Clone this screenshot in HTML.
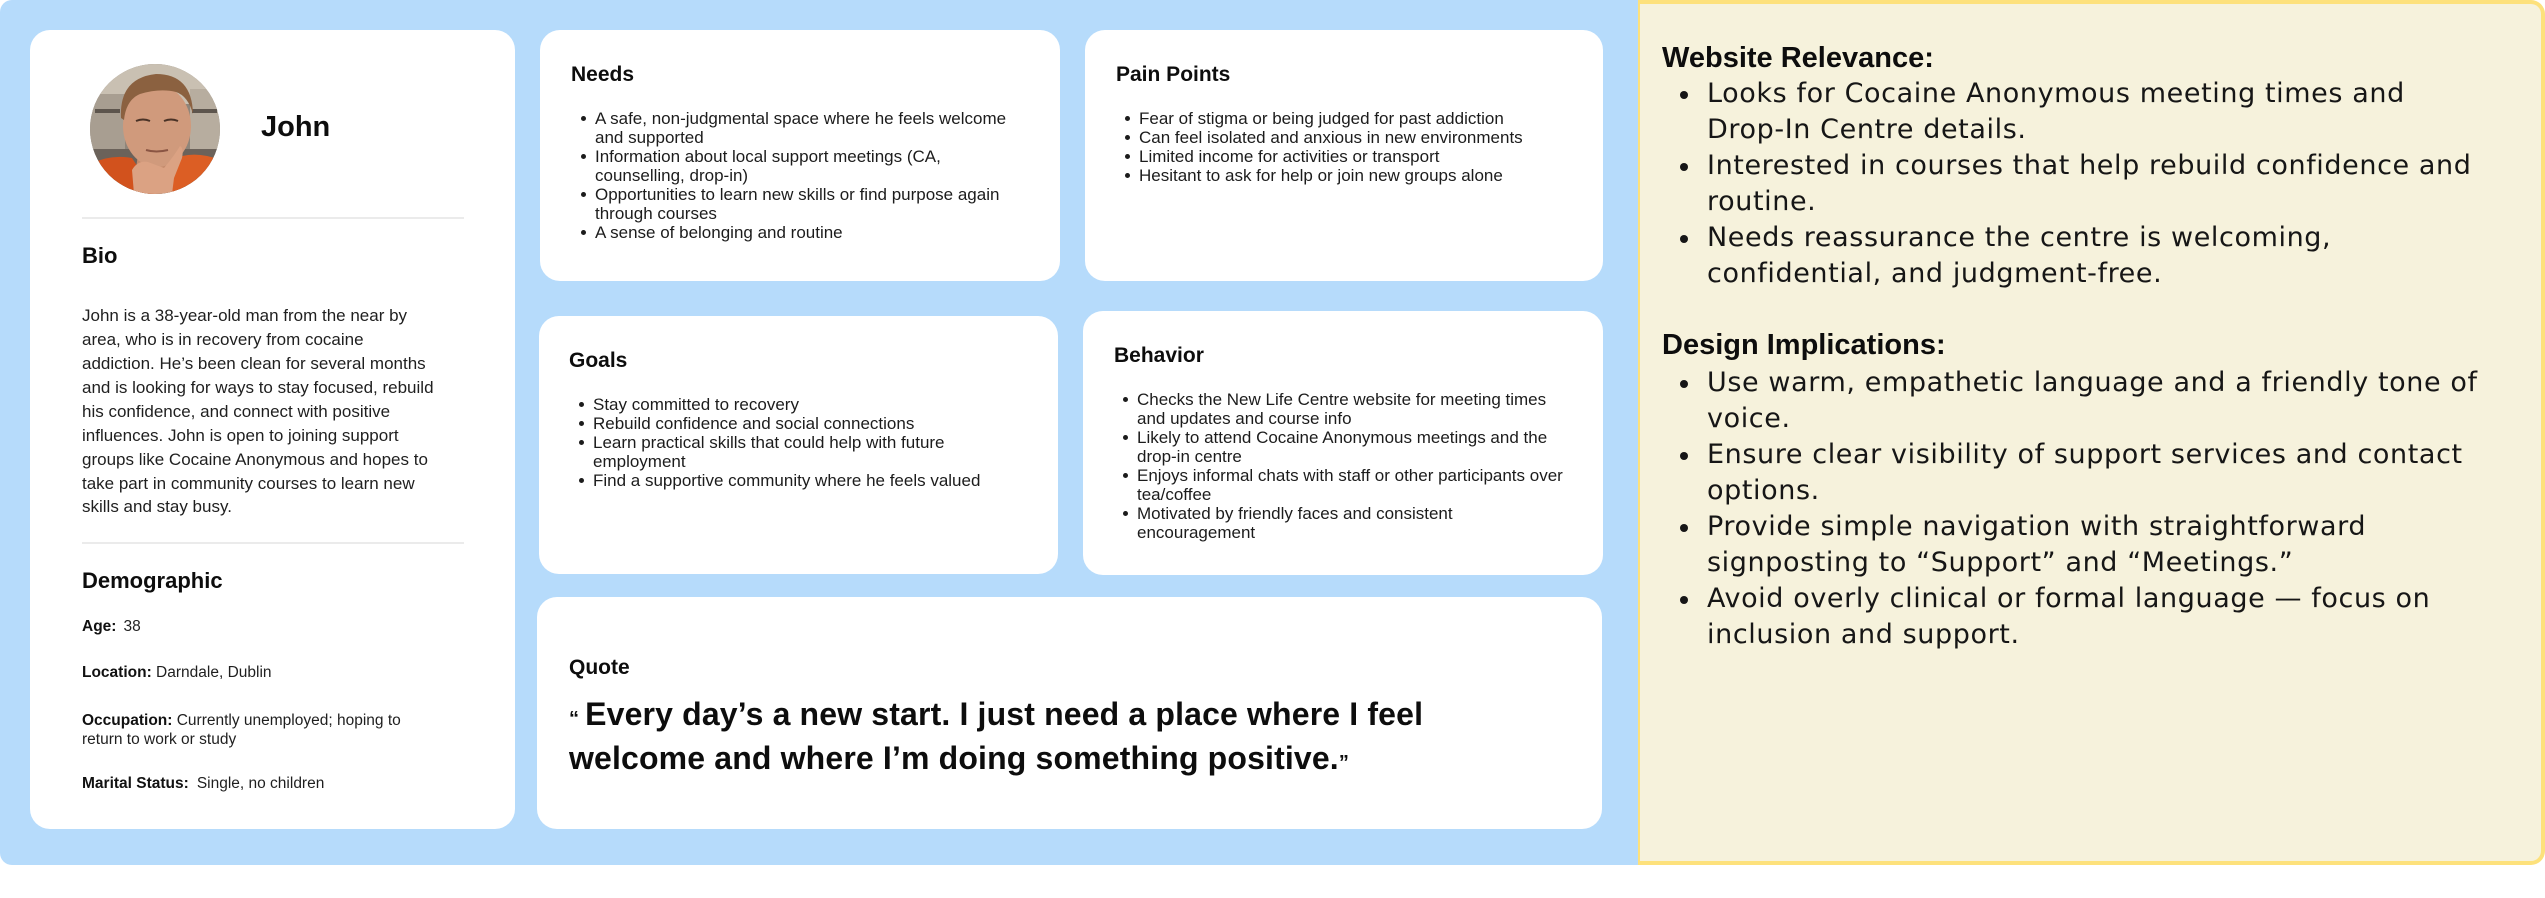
<!DOCTYPE html>
<html><head><meta charset="utf-8">
<style>
*{margin:0;padding:0;box-sizing:border-box}
html,body{width:2545px;height:898px;background:#fff;overflow:hidden}
body{position:relative;font-family:"Liberation Sans",Arial,sans-serif;color:#1c1c1c}
.a{position:absolute}
.blue{left:0;top:0;width:1640px;height:865px;background:#B6DBFB;border-radius:12px 0 0 12px}
.yel{left:1638px;top:0;width:907px;height:865px;background:#F6F2DC;border:4px solid #FDE17C;border-left-width:2px;border-radius:0 14px 14px 0}
.card{background:#fff;border-radius:20px}
.h{font-weight:700;font-size:21px;line-height:21px;color:#0d0d0d;white-space:nowrap}
.li{position:relative;font-size:17px;line-height:19px;white-space:nowrap;color:#1c1c1c}
.li::before{content:"";position:absolute;left:-14.5px;top:7.8px;width:5px;height:5px;border-radius:50%;background:#1c1c1c}
.div{height:2px;background:#ebebeb;left:82px;width:382px}
.bio{font-size:17px;line-height:23.9px;white-space:nowrap;color:#1f1f1f}
.dem{font-size:15.5px;line-height:19px;white-space:nowrap;color:#1f1f1f}
.dem b{color:#111}
.rh{font-weight:700;font-size:29px;line-height:36px;color:#0d0d0d;white-space:nowrap}
.rli{position:relative;font-family:"DejaVu Sans","Liberation Sans",sans-serif;font-size:27px;line-height:36px;letter-spacing:0.6px;white-space:nowrap;color:#161616}
.rli::before{content:"";position:absolute;left:-27px;top:15px;width:8px;height:8px;border-radius:50%;background:#161616}
.q{font-weight:700;font-size:32px;line-height:39px;letter-spacing:0.15px;color:#0d0d0d;white-space:nowrap}
.qm{font-size:20px}
</style></head>
<body>
<div class="a blue"></div>
<div class="a yel"></div>

<!-- Left profile card -->
<div class="a card" style="left:30px;top:30px;width:485px;height:799px"></div>
<svg class="a" style="left:90px;top:64px" width="130" height="130" viewBox="0 0 130 130">
<defs><clipPath id="c"><circle cx="65" cy="65" r="65"/></clipPath></defs>
<g clip-path="url(#c)">
<rect width="130" height="130" fill="#8f857a"/>
<rect x="0" y="0" width="130" height="40" fill="#c9c0b2"/>
<rect x="0" y="30" width="35" height="55" fill="#a89e91"/>
<rect x="100" y="25" width="30" height="60" fill="#b7ad9f"/>
<rect x="5" y="45" width="25" height="4" fill="#5d554d"/>
<rect x="102" y="45" width="25" height="4" fill="#5d554d"/>
<rect x="0" y="85" width="130" height="45" fill="#6b625a"/>
<path d="M48 90 L86 90 L90 120 L44 120Z" fill="#c48b6c"/>
<path d="M0 130 L0 100 Q20 90 42 94 L62 125 L66 130Z" fill="#d2521d"/>
<path d="M130 130 L130 96 Q110 88 92 92 L78 130Z" fill="#dc5e24"/>
<ellipse cx="67" cy="62" rx="34" ry="41" fill="#d09a7c"/>
<path d="M31 54 Q29 14 66 10 Q102 10 103 50 Q98 32 86 28 Q70 24 50 30 Q36 36 34 56Z" fill="#8b6140"/>
<path d="M46 57 Q53 54 60 57" stroke="#4a3226" stroke-width="2" fill="none"/>
<path d="M74 57 Q81 54 88 57" stroke="#4a3226" stroke-width="2" fill="none"/>
<path d="M56 86 Q66 89 78 86" stroke="#8a5543" stroke-width="2" fill="none"/>
<path d="M44 130 L42 106 Q48 96 58 98 L74 104 Q84 92 90 82 Q94 84 92 94 L84 114 L82 130Z" fill="#dba283"/>
</g></svg>
<div class="a" style="left:261px;top:112.5px;font-weight:700;font-size:29px;line-height:29px;color:#0d0d0d">John</div>
<div class="a div" style="top:217px"></div>
<div class="a h" style="left:82px;top:245.4px;font-size:22px;line-height:22px">Bio</div>
<div class="a bio" style="left:82px;top:304.2px">John is a 38-year-old man from the near by<br>area, who is in recovery from cocaine<br>addiction. He’s been clean for several months<br>and is looking for ways to stay focused, rebuild<br>his confidence, and connect with positive<br>influences. John is open to joining support<br>groups like Cocaine Anonymous and hopes to<br>take part in community courses to learn new<br>skills and stay busy.</div>
<div class="a div" style="top:542px"></div>
<div class="a h" style="left:82px;top:570.4px;font-size:22px;line-height:22px">Demographic</div>
<div class="a dem" style="left:82px;top:617.1px"><b>Age:</b><span style="margin-left:7px">38</span></div>
<div class="a dem" style="left:82px;top:663.1px"><b>Location:</b> Darndale, Dublin</div>
<div class="a dem" style="left:82px;top:711.1px"><b>Occupation:</b> Currently unemployed; hoping to<br>return to work or study</div>
<div class="a dem" style="left:82px;top:774.1px"><b>Marital Status:</b><span style="margin-left:8px">Single, no children</span></div>

<!-- Needs -->
<div class="a card" style="left:540px;top:30px;width:520px;height:251px"></div>
<div class="a h" style="left:571px;top:64.2px">Needs</div>
<div class="a" style="left:595px;top:108.6px">
<div class="li">A safe, non-judgmental space where he feels welcome<br>and supported</div>
<div class="li">Information about local support meetings (CA,<br>counselling, drop-in)</div>
<div class="li">Opportunities to learn new skills or find purpose again<br>through courses</div>
<div class="li">A sense of belonging and routine</div>
</div>

<!-- Pain Points -->
<div class="a card" style="left:1085px;top:30px;width:518px;height:251px"></div>
<div class="a h" style="left:1116px;top:64.2px">Pain Points</div>
<div class="a" style="left:1139px;top:108.6px">
<div class="li">Fear of stigma or being judged for past addiction</div>
<div class="li">Can feel isolated and anxious in new environments</div>
<div class="li">Limited income for activities or transport</div>
<div class="li">Hesitant to ask for help or join new groups alone</div>
</div>

<!-- Goals -->
<div class="a card" style="left:539px;top:316px;width:519px;height:258px"></div>
<div class="a h" style="left:569px;top:350.2px">Goals</div>
<div class="a" style="left:593px;top:394.6px">
<div class="li">Stay committed to recovery</div>
<div class="li">Rebuild confidence and social connections</div>
<div class="li">Learn practical skills that could help with future<br>employment</div>
<div class="li">Find a supportive community where he feels valued</div>
</div>

<!-- Behavior -->
<div class="a card" style="left:1083px;top:311px;width:520px;height:264px"></div>
<div class="a h" style="left:1114px;top:345.2px">Behavior</div>
<div class="a" style="left:1137px;top:389.6px">
<div class="li">Checks the New Life Centre website for meeting times<br>and updates and course info</div>
<div class="li">Likely to attend Cocaine Anonymous meetings and the<br>drop-in centre</div>
<div class="li">Enjoys informal chats with staff or other participants over<br>tea/coffee</div>
<div class="li">Motivated by friendly faces and consistent<br>encouragement</div>
</div>

<!-- Quote -->
<div class="a card" style="left:537px;top:597px;width:1065px;height:232px"></div>
<div class="a h" style="left:569px;top:657.2px">Quote</div>
<div class="a q" style="left:569px;top:695.4px"><span class="qm" style="margin-right:6px">“</span>Every day’s a new start. I just need a place where I feel<br>welcome and where I’m doing something positive.<span class="qm">”</span></div>

<!-- Right panel -->
<div class="a rh" style="left:1662px;top:39.95px">Website Relevance:</div>
<div class="a" style="left:1707px;top:75.66px">
<div class="rli">Looks for Cocaine Anonymous meeting times and<br>Drop-In Centre details.</div>
<div class="rli">Interested in courses that help rebuild confidence and<br>routine.</div>
<div class="rli">Needs reassurance the centre is welcoming,<br>confidential, and judgment-free.</div>
</div>
<div class="a rh" style="left:1662px;top:326.95px">Design Implications:</div>
<div class="a" style="left:1707px;top:364.66px">
<div class="rli">Use warm, empathetic language and a friendly tone of<br>voice.</div>
<div class="rli">Ensure clear visibility of support services and contact<br>options.</div>
<div class="rli">Provide simple navigation with straightforward<br>signposting to “Support” and “Meetings.”</div>
<div class="rli">Avoid overly clinical or formal language — focus on<br>inclusion and support.</div>
</div>
</body></html>
